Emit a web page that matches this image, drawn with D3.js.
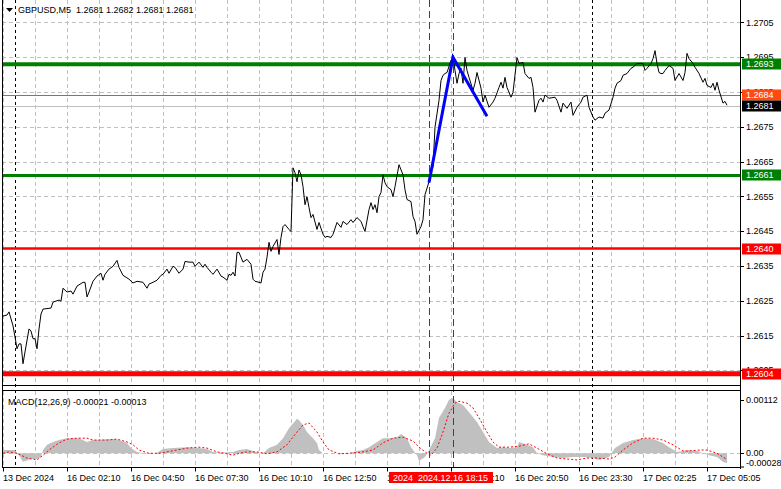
<!DOCTYPE html>
<html><head><meta charset="utf-8">
<script src="https://cdn.jsdelivr.net/npm/d3@7"></script>
<style>
html,body{margin:0;padding:0;background:#fff;}
svg{display:block;font-family:"Liberation Sans",Arial,sans-serif;}
</style></head><body>
<svg id="c" width="781" height="489"></svg>
<script>
// ---------------- DATA ----------------
const symbolTitle = "GBPUSD,M5  1.2681 1.2682 1.2681 1.2681";
const macdTitle = "MACD(12,26,9) -0.00021 -0.00013";
const priceTicks = [1.2705,1.2695,1.2685,1.2675,1.2665,1.2655,1.2645,1.2635,1.2625,1.2615,1.2605];
const timeLabelBars = [0,32,64,96,128,160,192,224,256,288,320,352];
const timeLabelTexts = ["13 Dec 2024","16 Dec 02:10","16 Dec 04:50","16 Dec 07:30","16 Dec 10:10","16 Dec 12:50","16 Dec 15:30","16 Dec 18:10","16 Dec 20:50","16 Dec 23:30","17 Dec 02:25","17 Dec 05:05"];
const levelPrices = [1.2693,1.2661,1.2640,1.2604];
const askPrice = 1.2684;
const bidPrice = 1.2681;
const trendPoints = [[213,1.2659],[225,1.2695],[242,1.2678]];
const markerBars = [213,225];
const daySeparatorBars = [6,294.5];
const markerText = "2024 2024.12.16 18:15";
const macdTicks = [0.00112,0,-0.00028];
const closeSeries = [[0,1.26206],[2,1.26209],[3,1.26218],[5,1.26178],[6,1.26146],[7,1.26112],[8,1.26126],[9,1.26126],[10,1.26069],[11,1.26103],[13,1.26169],[14,1.26163],[15,1.26141],[16,1.26141],[17,1.26112],[18,1.26169],[19,1.26212],[20,1.26226],[24,1.26229],[25,1.26246],[28,1.26252],[29,1.26249],[30,1.26286],[32,1.26275],[34,1.26278],[35,1.26269],[37,1.26292],[40,1.26303],[41,1.26303],[42,1.26261],[43,1.26275],[45,1.26306],[47,1.26321],[49,1.26329],[50,1.26309],[51,1.26326],[53,1.26341],[55,1.26349],[57,1.26366],[58,1.26346],[60,1.26323],[63,1.26312],[65,1.26301],[67,1.26306],[70,1.26303],[72,1.26286],[73,1.26298],[75,1.26303],[77,1.26309],[79,1.26323],[80,1.26326],[82,1.26341],[83,1.26329],[85,1.26349],[86,1.26346],[88,1.26329],[90,1.26341],[91,1.26363],[93,1.26361],[95,1.26361],[96,1.26349],[98,1.26361],[100,1.26346],[101,1.26355],[102,1.26346],[104,1.26332],[105,1.26326],[107,1.26341],[109,1.26321],[110,1.26318],[112,1.26309],[113,1.26326],[114,1.26323],[115,1.26332],[116,1.26321],[117,1.26389],[118,1.26389],[119,1.26375],[120,1.26361],[122,1.26369],[124,1.26355],[125,1.26312],[126,1.26306],[128,1.26303],[129,1.26301],[130,1.26332],[131,1.26341],[132,1.26375],[133,1.26418],[134,1.26392],[135,1.26406],[137,1.26426],[138,1.26383],[139,1.26432],[140,1.26463],[141,1.26469],[143,1.26455],[144,1.26449],[145,1.26632],[146,1.26618],[147,1.26592],[148,1.26626],[149,1.26612],[150,1.26578],[151,1.26526],[152,1.26549],[153,1.26518],[154,1.26489],[155,1.26498],[157,1.26455],[158,1.26475],[160,1.26441],[161,1.26432],[162,1.26435],[164,1.26432],[165,1.26441],[167,1.26475],[169,1.26461],[170,1.26478],[172,1.26469],[174,1.26483],[175,1.26475],[177,1.26489],[179,1.26478],[180,1.26463],[181,1.26449],[183,1.26512],[184,1.26532],[185,1.26512],[186,1.26526],[187,1.26503],[188,1.26549],[189,1.26561],[190,1.26612],[191,1.26589],[192,1.26578],[194,1.26569],[195,1.26549],[196,1.26578],[198,1.26641],[200,1.26612],[201,1.26569],[202,1.26541],[204,1.26535],[205,1.26492],[206,1.26478],[207,1.26441],[209,1.26463],[210,1.26483],[211,1.26555],[213,1.26592],[214,1.26621],[215,1.26635],[216,1.26749],[218,1.26826],[219,1.26883],[220,1.26898],[221,1.26903],[222,1.26906],[224,1.26941],[225,1.26949],[226,1.26912],[227,1.26875],[228,1.26903],[229,1.26918],[230,1.26875],[231,1.26949],[232,1.26912],[233,1.26892],[235,1.26855],[236,1.26875],[237,1.26906],[239,1.26861],[240,1.26821],[241,1.26841],[243,1.26806],[245,1.26821],[246,1.26832],[248,1.26863],[249,1.26878],[250,1.26861],[251,1.26892],[252,1.26863],[254,1.26835],[255,1.26849],[257,1.26949],[258,1.26932],[260,1.26935],[261,1.26903],[263,1.26889],[264,1.26892],[265,1.26863],[266,1.26792],[268,1.26826],[269,1.26832],[270,1.26821],[271,1.26841],[273,1.26832],[276,1.26835],[277,1.26826],[279,1.26792],[280,1.26818],[282,1.26803],[284,1.26821],[285,1.26783],[287,1.26806],[289,1.26821],[290,1.26835],[292,1.26841],[293,1.26806],[295,1.26778],[296,1.26769],[298,1.26778],[300,1.26775],[301,1.26789],[303,1.26798],[305,1.26835],[306,1.26861],[307,1.26875],[309,1.26883],[310,1.26898],[312,1.26903],[314,1.26918],[315,1.26921],[317,1.26932],[319,1.26932],[320,1.26932],[321,1.26912],[322,1.26918],[324,1.26932],[325,1.26946],[326,1.26969],[327,1.26932],[328,1.26906],[329,1.26903],[330,1.26903],[331,1.26912],[333,1.26926],[335,1.26918],[336,1.26883],[338,1.26903],[340,1.26883],[341,1.26906],[342,1.26961],[343,1.26946],[345,1.26932],[346,1.26921],[348,1.26903],[350,1.26878],[351,1.26889],[352,1.26869],[354,1.26863],[355,1.26875],[356,1.26855],[357,1.26878],[358,1.26855],[360,1.26818],[361,1.26823],[362,1.26812]];
const macdHist = [[0,0.00007],[6,0.00007],[8,-0.00004],[10,-0.00018],[14,-0.00012],[17,-0.00012],[19,-0.00008],[20,0.00007],[22,0.00018],[25,0.00024],[28,0.00028],[32,0.00032],[38,0.00032],[42,0.00024],[45,0.00028],[55,0.0003],[58,0.00028],[62,0.00022],[64,0.00011],[67,0.00003],[72,-0.00001],[77,0.00001],[80,0.00009],[85,0.00011],[92,0.00013],[98,0.00011],[102,0.00009],[105,0.00003],[108,0.00001],[115,0.00003],[118,0.00007],[122,0.00009],[125,0.00005],[128,0.00001],[130,0],[133,0.00011],[137,0.00018],[140,0.00032],[143,0.00053],[147,0.00073],[148,0.0007],[150,0.0006],[152,0.00045],[155,0.00032],[157,0.00022],[158,0.00007],[160,0],[173,0],[177,0.00005],[180,0.00007],[183,0.00013],[187,0.00024],[190,0.00032],[193,0.00032],[197,0.00034],[199,0.00041],[202,0.00032],[204,0.00013],[207,-0.00004],[208,-0.00016],[211,-0.00008],[213,0.00007],[216,0.00032],[218,0.00075],[221,0.00096],[223,0.00113],[225,0.00117],[227,0.00108],[230,0.00102],[233,0.00087],[237,0.00066],[240,0.00045],[243,0.00024],[247,0.00011],[250,0.00013],[253,0.00011],[257,0.00013],[258,0.00024],[262,0.00018],[265,0.00013],[267,0],[270,-0.00004],[275,-0.00008],[280,-0.0001],[285,-0.00008],[290,-0.00008],[295,-0.0001],[298,-0.00014],[303,-0.00008],[306,0.00011],[310,0.00022],[315,0.00028],[320,0.00032],[325,0.0003],[330,0.00022],[333,0.00013],[337,0.00003],[340,0.00005],[343,0.00007],[347,0.00005],[350,0],[353,-0.00004],[357,-0.00008],[360,-0.00018],[362,-0.00021]];
const macdSignal = [[0,0],[3,0.00003],[7,0],[12,-0.0001],[17,-0.00014],[20,-0.00004],[23,0.00007],[28,0.00022],[32,0.0003],[37,0.00032],[42,0.00032],[45,0.00028],[52,0.00028],[57,0.0003],[62,0.00024],[65,0.00018],[68,0.00007],[73,0],[78,0],[82,0.00003],[87,0.00007],[92,0.00011],[98,0.00013],[102,0.00011],[107,0.00003],[112,-0.00001],[115,-0.00004],[118,0],[122,0.00003],[127,0.00003],[132,-0.00001],[137,0.00003],[142,0.00018],[147,0.00045],[150,0.0006],[153,0.00064],[157,0.00045],[160,0.00024],[163,0.00007],[168,-0.00001],[173,0],[180,0.00003],[185,0.00007],[190,0.00022],[195,0.00032],[200,0.00034],[205,0.00026],[208,0.00013],[212,0],[214,-0.00004],[217,0.00011],[220,0.00045],[223,0.00085],[226,0.00106],[228,0.0011],[232,0.00106],[235,0.00096],[238,0.00075],[242,0.00045],[245,0.00024],[248,0.00013],[253,0.00013],[258,0.00015],[263,0.0002],[267,0.00011],[272,-0.00001],[277,-0.0001],[282,-0.00012],[287,-0.00014],[292,-0.0001],[297,-0.0001],[303,-0.00012],[306,-0.00008],[310,0.00007],[315,0.00022],[320,0.00032],[325,0.00032],[330,0.00028],[335,0.00018],[340,0.00005],[343,0.00005],[349,0.00007],[352,0.00007],[357,0],[360,-0.00008],[362,-0.00013]];

// ---------------- LAYOUT / STYLE ----------------
const L = {left:2, right:740, mainTop:0, mainBottom:386, macdTop:391, macdBottom:467.5, labelX:746};
const levelStyles = [
  {color:"#008000", width:4},
  {color:"#008000", width:3},
  {color:"#ff0000", width:2.5},
  {color:"#ff0000", width:5}
];
const gridColor = "#c0c0c0";
const FONT = 9;

const svg = d3.select("#c");
const x = d3.scaleLinear().domain([0,368.5]).range([3,740]);
const y = d3.scaleLinear().domain([1.26005,1.27100]).range([L.mainBottom,5]);
const m = d3.scaleLinear().domain([-0.0003,0.001317]).range([L.macdBottom,L.macdTop]);

// vertical grid (both panels)
const gridBars = d3.range(0,368,16);
[[L.mainTop,L.mainBottom],[L.macdTop,L.macdBottom]].forEach(([t,b])=>{
  svg.append("g").selectAll("line").data(gridBars).join("line")
    .attr("x1",d=>Math.round(x(d))+0.5).attr("x2",d=>Math.round(x(d))+0.5)
    .attr("y1",t).attr("y2",b)
    .attr("stroke",gridColor).attr("stroke-dasharray","4,3");
});
// horizontal grid main
svg.append("g").selectAll("line").data(priceTicks).join("line")
  .attr("x1",L.left).attr("x2",L.right)
  .attr("y1",d=>Math.round(y(d))+0.5).attr("y2",d=>Math.round(y(d))+0.5)
  .attr("stroke",gridColor).attr("stroke-dasharray","4,3");
// MACD zero line
svg.append("line").attr("x1",L.left).attr("x2",L.right)
  .attr("y1",Math.round(m(0))+0.5).attr("y2",Math.round(m(0))+0.5)
  .attr("stroke",gridColor).attr("stroke-dasharray","4,3");

// day separators
svg.append("g").selectAll("line").data(daySeparatorBars).join("line")
  .attr("x1",d=>Math.round(x(d))+0.5).attr("x2",d=>Math.round(x(d))+0.5)
  .attr("y1",L.mainTop).attr("y2",L.macdBottom)
  .attr("stroke","#000").attr("stroke-dasharray","3,3");

// level lines
svg.append("g").selectAll("line").data(levelPrices).join("line")
  .attr("x1",L.left).attr("x2",L.right)
  .attr("y1",d=>y(d)).attr("y2",d=>y(d))
  .attr("stroke",(d,i)=>levelStyles[i].color).attr("stroke-width",(d,i)=>levelStyles[i].width);
// ask / bid lines
svg.append("line").attr("x1",L.left).attr("x2",L.right)
  .attr("y1",Math.round(y(askPrice))+0.5).attr("y2",Math.round(y(askPrice))+0.5)
  .attr("stroke","#e8501e");
svg.append("line").attr("x1",L.left).attr("x2",L.right)
  .attr("y1",Math.round(y(bidPrice))+0.5).attr("y2",Math.round(y(bidPrice))+0.5)
  .attr("stroke","#c0c0c0");

// MACD histogram
svg.append("path").datum(macdHist)
  .attr("d",d3.area().x(d=>x(d[0])).y0(m(0)).y1(d=>m(d[1])))
  .attr("fill","#c0c0c0");
// MACD signal
svg.append("path").datum(macdSignal)
  .attr("d",d3.line().x(d=>x(d[0])).y(d=>m(d[1])))
  .attr("fill","none").attr("stroke","#ff0000").attr("stroke-width",1).attr("stroke-dasharray","2,2");

// price line
svg.append("path").datum(closeSeries)
  .attr("d",d3.line().x(d=>x(d[0])).y(d=>y(d[1])))
  .attr("fill","none").attr("stroke","#000").attr("stroke-width",1);

// marker verticals
svg.append("g").selectAll("line").data(markerBars).join("line")
  .attr("x1",d=>Math.round(x(d))+0.5).attr("x2",d=>Math.round(x(d))+0.5)
  .attr("y1",L.mainTop).attr("y2",L.macdBottom)
  .attr("stroke","#dd0000").attr("stroke-dasharray","7,4");

// trend lines
svg.append("path").datum(trendPoints)
  .attr("d",d3.line().x(d=>x(d[0])).y(d=>y(d[1])))
  .attr("fill","none").attr("stroke","#0000ff").attr("stroke-width",3);

// frame
const fr = svg.append("g").attr("stroke","#000").attr("shape-rendering","crispEdges");
fr.append("line").attr("x1",L.left+0.5).attr("x2",L.left+0.5).attr("y1",0).attr("y2",L.macdBottom);
fr.append("line").attr("x1",L.right+0.5).attr("x2",L.right+0.5).attr("y1",0).attr("y2",L.macdBottom+1);
fr.append("line").attr("x1",L.left).attr("x2",L.right).attr("y1",L.mainBottom-0.5).attr("y2",L.mainBottom-0.5);
fr.append("line").attr("x1",L.left).attr("x2",L.right).attr("y1",L.macdTop-0.5).attr("y2",L.macdTop-0.5);
fr.append("line").attr("x1",L.left).attr("x2",L.right).attr("y1",L.macdBottom).attr("y2",L.macdBottom);

// right price axis
const ay = svg.append("g");
ay.selectAll("line").data(priceTicks).join("line")
  .attr("x1",L.right).attr("x2",L.right+4)
  .attr("y1",d=>Math.round(y(d))+0.5).attr("y2",d=>Math.round(y(d))+0.5).attr("stroke","#000");
ay.selectAll("text").data(priceTicks).join("text")
  .attr("x",L.labelX).attr("y",d=>y(d)).attr("dy","0.35em")
  .attr("font-size",FONT).attr("fill","#000").text(d=>d.toFixed(4));

// price label boxes
const boxes = levelPrices.map((p,i)=>({p, bg:levelStyles[i].color}))
  .concat([{p:askPrice,bg:"#ff4a10"},{p:bidPrice,bg:"#000"}]);
const bg = svg.append("g").selectAll("g").data(boxes).join("g")
  .attr("transform",d=>`translate(${L.right+2},${Math.round(y(d.p))-5.5})`);
bg.append("rect").attr("width",39).attr("height",11).attr("fill",d=>d.bg);
bg.append("text").attr("x",L.labelX-L.right-2).attr("y",5.5).attr("dy","0.35em")
  .attr("font-size",FONT).attr("fill","#fff").text(d=>d.p.toFixed(4));

// MACD axis
const am = svg.append("g");
am.selectAll("line").data(macdTicks).join("line")
  .attr("x1",L.right).attr("x2",L.right+4)
  .attr("y1",d=>Math.min(Math.round(m(d)),L.macdBottom-1)+0.5).attr("y2",d=>Math.min(Math.round(m(d)),L.macdBottom-1)+0.5)
  .attr("stroke","#000");
am.selectAll("text").data(macdTicks).join("text")
  .attr("x",L.labelX).attr("y",d=>Math.min(m(d),L.macdBottom-5)).attr("dy","0.35em")
  .attr("font-size",FONT).attr("fill","#000")
  .text(d=>d===0?"0.00":d.toFixed(5));

// bottom time axis
const ax = svg.append("g");
ax.selectAll("line").data(timeLabelBars).join("line")
  .attr("x1",d=>Math.round(x(d))+0.5).attr("x2",d=>Math.round(x(d))+0.5)
  .attr("y1",L.macdBottom).attr("y2",L.macdBottom+4).attr("stroke","#000");
ax.selectAll("text").data(timeLabelBars).join("text")
  .attr("x",d=>x(d)).attr("y",481)
  .attr("font-size",FONT).attr("fill","#000").text((d,i)=>timeLabelTexts[i]);

// time marker box
const mx = x(markerBars[1]);
svg.append("rect").attr("x",mx-64).attr("y",472).attr("width",104).attr("height",11).attr("fill","#ff0000");
svg.append("text").attr("x",mx-60).attr("y",481).attr("font-size",FONT).attr("fill","#fff")
  .attr("xml:space","preserve").text(markerText.replace(" ","  "));

// titles
svg.append("path").attr("d","M6,8 L13,8 L9.5,12 Z").attr("fill","#000");
svg.append("text").attr("x",18).attr("y",13).attr("font-size",FONT).attr("fill","#000")
  .attr("xml:space","preserve").text(symbolTitle);
svg.append("text").attr("x",8).attr("y",405).attr("font-size",FONT).attr("fill","#000").text(macdTitle);
</script>
</body></html>
